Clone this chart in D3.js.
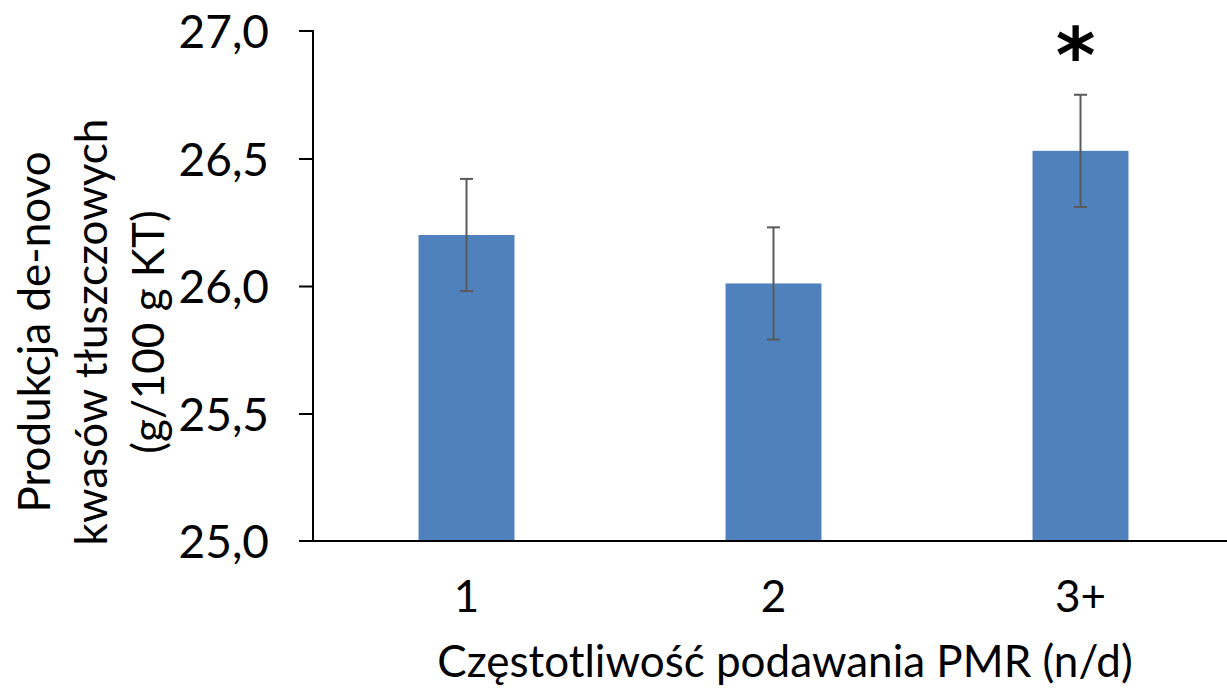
<!DOCTYPE html>
<html><head><meta charset="utf-8">
<script src="https://cdn.jsdelivr.net/npm/d3@7"></script>
<style>body{margin:0;background:#fff;}svg{display:block;font-family:Lato, "Open Sans", sans-serif;}</style>
</head><body>
<svg id="c" width="1227" height="690"></svg>
<script>
const categories = ["1", "2", "3+"];
const values = [26.2, 26.01, 26.53];
const errors = [0.22, 0.22, 0.22];
const significance = ["", "", "*"];
const yTicks = [25.0, 25.5, 26.0, 26.5, 27.0];
const xTitle = "Częstotliwość podawania PMR (n/d)";
const yTitleLines = ["Produkcja de-novo", "kwasów tłuszczowych", "(g/100 g KT)"];

const svg = d3.select("#c");
const x0 = 313, x1 = 1234, yTop = 31, yBot = 541;
const x = d3.scaleBand().domain(categories).range([x0, x1]).padding(0);
const y = d3.scaleLinear().domain([25, 27]).range([yBot, yTop]);
const barW = x.bandwidth() * 0.3125;
const fmt = d => d3.format(".1f")(d).replace(".", ",");

// bars
svg.selectAll("rect.bar").data(categories).enter().append("rect")
  .attr("x", d => x(d) + x.bandwidth()/2 - barW/2)
  .attr("width", barW)
  .attr("y", (d,i) => y(values[i]))
  .attr("height", (d,i) => y(25) - y(values[i]))
  .attr("fill", "#4f81bd");

// error bars
const eg = svg.append("g").attr("stroke", "#595959").attr("stroke-width", 2);
categories.forEach((c,i) => {
  const cx = x(c) + x.bandwidth()/2;
  eg.append("line").attr("x1", cx).attr("x2", cx).attr("y1", y(values[i]+errors[i])).attr("y2", y(values[i]-errors[i]));
  [values[i]+errors[i], values[i]-errors[i]].forEach(v => {
    eg.append("line").attr("x1", cx-6.5).attr("x2", cx+6.5).attr("y1", y(v)).attr("y2", y(v));
  });
  if (significance[i]) {
    svg.append("text").attr("x", cx - 5).attr("y", 82).attr("text-anchor", "middle")
      .attr("font-size", 76).attr("font-weight", "bold").attr("font-family", "DejaVu Sans").attr("fill", "#000").text(significance[i]);
  }
});

// y axis
const yAxis = d3.axisLeft(y).tickValues(yTicks).tickFormat(fmt).tickSize(14).tickPadding(30);
const yg = svg.append("g").attr("transform", `translate(${x0},0)`).call(yAxis);
yg.selectAll(".tick line").attr("stroke", "#000").attr("stroke-width", 2);
yg.selectAll(".tick text").attr("font-size", 46).attr("fill", "#000").attr("font-family", "Lato, sans-serif").attr("dy", "0.36em");
yg.selectAll(".tick").filter(d => d === 25 || d === 27).select("line").remove();
yg.select(".domain").attr("stroke", "#000").attr("stroke-width", 2).attr("d", `M-14,${yTop}H0V${yBot}H-14`);

// x axis
const xAxis = d3.axisBottom(x).tickSize(0).tickPadding(40);
const xg = svg.append("g").attr("transform", `translate(0,${yBot})`).call(xAxis);
xg.select(".domain").attr("stroke", "#000").attr("stroke-width", 2).attr("d", `M${x0-14},0H1227`);
xg.selectAll(".tick text").attr("font-size", 44).attr("fill", "#000").attr("font-family", "Lato, sans-serif");

// titles
svg.append("text").attr("x", 785).attr("y", 677).attr("text-anchor", "middle")
  .attr("font-size", 44).attr("fill", "#000").text(xTitle);
const yt = svg.append("text").attr("transform", "translate(0,332) rotate(-90)").attr("text-anchor", "middle")
  .attr("font-size", 44).attr("fill", "#000");
yTitleLines.forEach((t,i) => yt.append("tspan").attr("x", 0).attr("y", 50 + i*57).text(t));
</script>
</body></html>
